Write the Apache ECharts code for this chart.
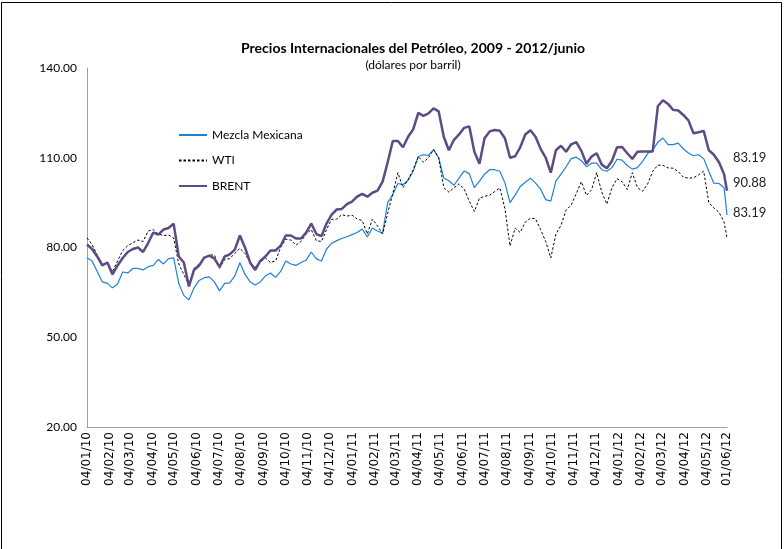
<!DOCTYPE html>
<html>
<head>
<meta charset="utf-8">
<script src="https://cdn.jsdelivr.net/npm/echarts@6/dist/echarts.min.js"></script>
<style>html,body{margin:0;padding:0;background:#fff}#c{width:784px;height:549px}</style>
</head>
<body>
<div id="c"></div>
<script>
// Weekly sample dates (Mondays) + final day
const dates = [
'2010-01-04','2010-01-11','2010-01-18','2010-01-25','2010-02-01','2010-02-08','2010-02-15','2010-02-22',
'2010-03-01','2010-03-08','2010-03-15','2010-03-22','2010-03-29','2010-04-05','2010-04-12','2010-04-19','2010-04-26',
'2010-05-03','2010-05-10','2010-05-17','2010-05-24','2010-05-31','2010-06-07','2010-06-14','2010-06-21','2010-06-28',
'2010-07-05','2010-07-12','2010-07-19','2010-07-26','2010-08-02','2010-08-09','2010-08-16','2010-08-23','2010-08-30',
'2010-09-06','2010-09-13','2010-09-20','2010-09-27','2010-10-04','2010-10-11','2010-10-18','2010-10-25',
'2010-11-01','2010-11-08','2010-11-15','2010-11-22','2010-11-29','2010-12-06','2010-12-13','2010-12-20','2010-12-27',
'2011-01-03','2011-01-10','2011-01-17','2011-01-24','2011-01-31','2011-02-07','2011-02-14','2011-02-21','2011-02-28',
'2011-03-07','2011-03-14','2011-03-21','2011-03-28','2011-04-04','2011-04-11','2011-04-18','2011-04-25',
'2011-05-02','2011-05-09','2011-05-16','2011-05-23','2011-05-30','2011-06-06','2011-06-13','2011-06-20','2011-06-27',
'2011-07-04','2011-07-11','2011-07-18','2011-07-25','2011-08-01','2011-08-08','2011-08-15','2011-08-22','2011-08-29',
'2011-09-05','2011-09-12','2011-09-19','2011-09-26','2011-10-03','2011-10-10','2011-10-17','2011-10-24','2011-10-31',
'2011-11-07','2011-11-14','2011-11-21','2011-11-28','2011-12-05','2011-12-12','2011-12-19','2011-12-26',
'2012-01-02','2012-01-09','2012-01-16','2012-01-23','2012-01-30','2012-02-06','2012-02-13','2012-02-20','2012-02-27',
'2012-03-05','2012-03-12','2012-03-19','2012-03-26','2012-04-02','2012-04-09','2012-04-16','2012-04-23','2012-04-30',
'2012-05-07','2012-05-14','2012-05-21','2012-05-28','2012-06-01'
];
const mezcla = [
76.6,75.5,72,68.5,68,66.5,67.8,71.8,71.5,73,73,72.5,73.6,74,76,74.5,76.3,76.5,68,64,62.5,66.5,69,69.9,70.2,68.5,
65.5,68,68.2,70.5,75,71,68.5,67.5,68.5,70.5,71.5,70,72,75.5,74.5,74,75,75.8,78.5,76.2,75.5,79.5,81.4,82.3,83,83.6,
84.3,85,86.2,83.5,86.5,85.5,84.8,95,97.7,101.4,101,102.5,105.5,110.4,111,110.8,112.7,110,103.2,102.3,100.8,103.2,
105.6,104.7,100,102.2,104.5,106,106,105.5,101.6,95,97.5,100.4,101.8,103.2,101.5,99.5,96,95.5,102.2,104.5,107,109.7,
110.2,109,107,108.2,108.2,106,105.5,106.7,109.5,109.2,107.4,106.2,106.7,108.8,111.4,112.5,115.2,116.6,114.4,114.4,
114.9,113,111.6,110.7,111,109.7,105.5,101.5,101.4,100,90.88
];
const wti = [
83.2,81,77.5,74.5,74.5,72,75.5,79,80.6,81.6,82.5,82,85.5,86,84.5,84,84.2,83.2,74.5,71,67.5,73,74.5,76.3,77.5,77.5,
73,76,76.3,78,79.7,78,75,73.5,75,76.5,75,75.5,80,82.8,82.5,80.8,82,84.5,86,82.3,82,86,89.4,89.5,91,90.5,
90.8,89.5,89,84.5,89.5,87.2,84.5,91.5,98,105,100,102.7,106,110.4,108.5,110,112.7,110,100,98.5,100,101.3,
99.5,95.5,92,96.5,97.1,97.5,98.7,99.9,93,80.5,86.5,85,88.5,89.8,89.6,86,82,76.5,84.5,87.4,92.5,94.2,
98,102,97.4,99.3,105,98.5,94.5,100,103,102,99.4,105,100,98.8,101.2,105.5,107.5,107.5,106.6,106.5,
105.4,103.5,103.2,103.3,104.3,105.5,95,93.2,91.8,88.5,83.19
];
const brent = [
81,79.5,77,74,75,71,74,76.5,78.5,79.5,80,78.5,81.5,85,84.3,86,86.5,88,77,75,67,72.5,74,76.6,77.3,76.3,
73.5,77,77.7,79.3,84,80,75,72.5,75.5,77,79,79,80.6,84,84,83,83,85,88,84.5,83.8,88,91,92.7,92.9,94.5,
95.3,97,97.9,97,98.3,99,102,108.5,115.6,115.6,113.5,117,119.5,125,124,124.8,126.5,125.5,117,112.5,116,117.8,
120,120.5,112,108,116.5,118.8,119.3,119,116.5,110,110.5,113.5,117.8,119.2,117,113,110,105,112.5,114,112,114.5,
115.2,112.3,108,110.4,111.5,107.7,106.5,109,113.5,113.6,111.5,109.6,112,112.1,112.1,112.1,127.2,129.2,128,126,
125.8,124.3,122.5,118.2,118.5,119,112.5,111,108.5,104.5,99
];
const seriesNames = ['Mezcla Mexicana', 'WTI', 'BRENT'];
const endLabels = ['90.88', '83.19', '83.19'];
const tickDates = [
'2010-01-04','2010-02-04','2010-03-04','2010-04-04','2010-05-04','2010-06-04','2010-07-04','2010-08-04','2010-09-04',
'2010-10-04','2010-11-04','2010-12-04','2011-01-04','2011-02-04','2011-03-04','2011-04-04','2011-05-04','2011-06-04',
'2011-07-04','2011-08-04','2011-09-04','2011-10-04','2011-11-04','2011-12-04','2012-01-04','2012-02-04','2012-03-04',
'2012-04-04','2012-05-04','2012-06-01'
];
const tickLabels = [
'04/01/10','04/02/10','04/03/10','04/04/10','04/05/10','04/06/10','04/07/10','04/08/10','04/09/10',
'04/10/10','04/11/10','04/12/10','04/01/11','04/02/11','04/03/11','04/04/11','04/05/11','04/06/11',
'04/07/11','04/08/11','04/09/11','04/10/11','04/11/11','04/12/11','04/01/12','04/02/12','04/03/12',
'04/04/12','04/05/12','01/06/12'
];

// day number (days since 1970, UTC) for each date string
function dayNum(s) { const p = s.split('-').map(Number); return Date.UTC(p[0], p[1] - 1, p[2]) / 86400000; }
const tickDays = tickDates.map(dayNum);
const labelMap = {};
tickDays.forEach((t, i) => { labelMap[t] = tickLabels[i]; });
function pairs(vals) { return dates.map((d, i) => [dayNum(d), vals[i]]); }

const FONT = 'Lato';
const chart = echarts.init(document.getElementById('c'), null, { renderer: 'canvas' });
chart.setOption({
  animation: false,
  backgroundColor: '#fff',
  graphic: [{
    type: 'rect', shape: { x: 1.5, y: 2.5, width: 780, height: 570 },
    style: { fill: 'none', stroke: '#000', lineWidth: 1 }, silent: true, z: -1
  }],
  title: {
    text: 'Precios Internacionales del Petróleo, 2009 - 2012/junio',
    subtext: '(dólares por barril)',
    left: 408, top: 36, textAlign: 'center', itemGap: 4,
    textStyle: { fontFamily: FONT, fontSize: 14, fontWeight: 'bold', color: '#000' },
    subtextStyle: { fontFamily: FONT, fontSize: 12, color: '#000' }
  },
  legend: {
    orient: 'vertical', left: 178, top: 129, padding: 0, itemWidth: 28, itemHeight: 14, itemGap: 13.5,
    itemStyle: { opacity: 0 },
    textStyle: { fontFamily: FONT, fontSize: 12, color: '#000' },
    data: seriesNames
  },
  grid: { left: 87, right: 57, top: 68, bottom: 122, containLabel: false },
  xAxis: {
    type: 'value', min: dayNum('2010-01-04'), max: dayNum('2012-06-01'),
    axisLine: { show: true, onZero: false, lineStyle: { color: '#a0a0a0', width: 1 } },
    axisTick: { show: false },
    splitLine: { show: false },
    axisLabel: {
      customValues: tickDays, rotate: 90, margin: 5, hideOverlap: false,
      fontFamily: 'DejaVu Sans', fontSize: 12, color: '#000',
      formatter: v => labelMap[v] || ''
    }
  },
  yAxis: {
    type: 'value', min: 20, max: 140, interval: 30,
    axisLine: { show: true, lineStyle: { color: '#a0a0a0', width: 1 } },
    axisTick: { show: false },
    splitLine: { show: false },
    axisLabel: { margin: 10, fontFamily: FONT, fontSize: 12, color: '#000', formatter: v => v.toFixed(2) }
  },
  series: [
    {
      name: seriesNames[0], type: 'line', data: pairs(mezcla), symbol: 'none',
      lineStyle: { color: '#1f80d5', width: 1.2 }, itemStyle: { color: '#1f80d5' },
      endLabel: { show: true, formatter: endLabels[0], offset: [-2, -32], fontFamily: FONT, fontSize: 13, color: '#222' }
    },
    {
      name: seriesNames[1], type: 'line', data: pairs(wti), symbol: 'none',
      lineStyle: { color: '#000', width: 1, type: [2.5, 2] }, itemStyle: { color: '#000' },
      endLabel: { show: true, formatter: endLabels[1], offset: [-2, -25], fontFamily: FONT, fontSize: 13, color: '#222' }
    },
    {
      name: seriesNames[2], type: 'line', data: pairs(brent), symbol: 'none',
      lineStyle: { color: '#5e4a84', width: 2.5 }, itemStyle: { color: '#5e4a84' },
      endLabel: { show: true, formatter: endLabels[2], offset: [-2, -33], fontFamily: FONT, fontSize: 13, color: '#222' }
    }
  ]
});
</script>
</body>
</html>
